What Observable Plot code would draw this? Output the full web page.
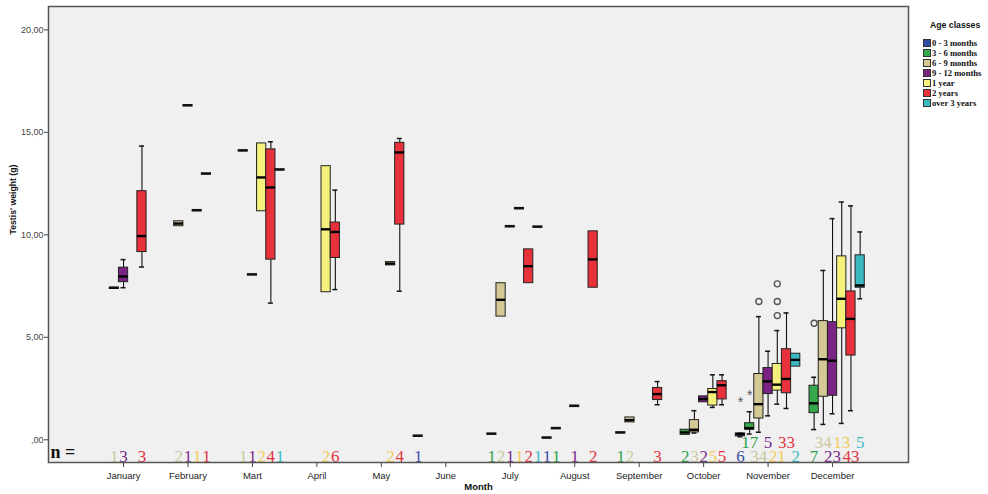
<!DOCTYPE html>
<html>
<head>
<meta charset="utf-8">
<script src="https://cdn.jsdelivr.net/npm/d3@7"></script>
<script src="https://cdn.jsdelivr.net/npm/@observablehq/plot@0.6"></script>
<style>
  body { margin: 0; background: #fff; }
  #wrap { position: relative; width: 988px; height: 494px; overflow: hidden; }
  #chart svg { display: block; }
  .lg-title { position: absolute; font-family: "Liberation Sans", Arial, sans-serif; font-weight: bold; font-size: 8.7px; color: #111; white-space: nowrap; }
  .lg-sw { position: absolute; width: 6px; height: 6px; border: 1px solid #333; }
  .lg-tx { position: absolute; font-family: "Liberation Serif", "Times New Roman", serif; font-weight: bold; font-size: 8.6px; color: #111; white-space: nowrap; line-height: 10px; }
</style>
</head>
<body>
<div id="wrap"><div id="chart"></div></div>
<script>
// ---------- data ----------
const months = ["January","February","Mart","April","May","June","July","August","September","October","November","December"];
const classes = ["0 - 3 months","3 - 6 months","6 - 9 months","9 - 12 months","1 year","2 years","over 3 years"];
const boxColors = ["#2e4da3","#34a84a","#d4c894","#7b2382","#f6f07c","#e8313b","#3ab9c1"];
const labelColors = ["#3a4fa6","#2fa44a","#cbc89c","#7a2c8a","#f2cc58","#e2343e","#3cbcc6"];
const yTicks = [0, 5, 10, 15, 20];

// [monthIndex, classIndex, n, min, q1, median, q3, max]
const boxes = [
  [0,3,3, 7.42,7.69,7.97,8.40,8.79],
  [0,5,3, 8.43,9.16,9.94,12.13,14.33],
  [1,2,2, 10.42,10.42,10.55,10.66,10.66],
  [2,4,2, 11.15,11.15,12.80,14.46,14.46],
  [2,5,4, 6.67,8.79,12.31,14.17,14.54],
  [3,4,2, 7.20,7.20,10.27,13.35,13.35],
  [3,5,6, 7.33,8.87,10.14,10.60,12.18],
  [4,4,2, 8.51,8.51,8.60,8.67,8.67],
  [4,5,4, 7.25,10.50,14.02,14.49,14.70],
  [6,2,2, 6.01,6.01,6.83,7.64,7.64],
  [6,5,2, 7.64,7.64,8.47,9.29,9.29],
  [7,5,2, 7.42,7.42,8.80,10.17,10.17],
  [8,2,2, 0.85,0.85,0.96,1.09,1.09],
  [8,5,3, 1.71,1.94,2.23,2.53,2.84],
  [9,1,2, 0.24,0.24,0.36,0.49,0.49],
  [9,2,3, 0.33,0.36,0.49,0.96,1.42],
  [9,3,2, 1.83,1.83,1.99,2.12,2.12],
  [9,4,5, 1.58,1.67,2.33,2.48,3.17],
  [9,5,5, 1.71,1.97,2.66,2.86,3.17],
  [10,0,6, 0.15,0.17,0.28,0.31,0.32],
  [10,1,17, 0.28,0.49,0.57,0.81,1.37],
  [10,2,34, 0.37,1.04,1.74,3.21,6.01],
  [10,3,5, 1.17,2.23,2.85,3.50,4.32],
  [10,4,21, 1.74,2.40,2.69,3.70,5.33],
  [10,5,33, 1.53,2.27,2.97,4.42,6.19],
  [10,6,2, 3.57,3.57,3.90,4.20,4.20],
  [11,1,7, 0.50,1.30,1.78,2.64,3.05],
  [11,2,34, 0.75,2.10,3.93,5.79,8.26],
  [11,3,23, 1.27,2.15,3.86,5.74,10.79],
  [11,4,13, 0.80,5.44,6.88,8.95,11.60],
  [11,5,43, 1.42,4.11,5.90,7.24,11.41],
  [11,6,5, 6.88,7.42,7.53,9.00,10.14]
];

// single observations (n = 1): [monthIndex, classIndex, value]
const singles = [
  [0,2,7.42],
  [1,3,16.32],[1,4,11.20],[1,5,12.99],
  [2,2,14.12],[2,3,8.07],[2,6,13.19],
  [5,0,0.20],
  [6,1,0.30],[6,3,10.42],[6,4,11.30],[6,6,10.40],
  [7,0,0.11],[7,1,0.57],[7,3,1.66],
  [8,1,0.36]
];

// outliers: [monthIndex, classIndex, value, kind]  ("o" outlier, "*" extreme)
const outliers = [
  [10,0,1.97,"*"],[10,1,2.30,"*"],
  [10,2,6.75,"o"],
  [10,4,6.06,"o"],[10,4,6.75,"o"],[10,4,7.61,"o"],
  [11,1,5.69,"o"]
];

// ---------- derived ----------
const K = classes.length;
const slotOf = (mi, ci) => mi * K + ci;
const boxData = boxes.map(([mi,ci,n,min,q1,med,q3,max]) => ({slot: slotOf(mi,ci), ci, n, min, q1, med, q3, max}));
const singleData = singles.map(([mi,ci,v]) => ({slot: slotOf(mi,ci), ci, n: 1, v}));
const outData = outliers.map(([mi,ci,v,kind]) => ({slot: slotOf(mi,ci), ci, v, kind}));
const monthSlots = months.map((m, i) => slotOf(i, 3));

const xDomain = [-5.15, 88.25];
const yDomain = [-1.107, 21.14];

// staggered n labels: lower row unless it collides with the previous lower-row label
const digitW = 0.9;
const labelData = [...boxData, ...singleData].sort((a, b) => a.slot - b.slot).map(d => ({...d}));
const lastEnd = [-Infinity, -Infinity];
for (const d of labelData) {
  const half = String(d.n).length * digitW / 2;
  const start = d.slot - half;
  let row = 0;
  if (start < lastEnd[0] - 0.01) row = start >= lastEnd[1] - 0.01 ? 1 : 0;
  d.row = row;
  lastEnd[row] = d.slot + half;
}

const wLow = boxData.filter(d => d.min < d.q1);
const wHigh = boxData.filter(d => d.max > d.q3);

const labelFont = "Liberation Serif, Times New Roman, serif";

const chart = Plot.plot({
  width: 988,
  height: 494,
  marginLeft: 48,
  marginRight: 80,
  marginTop: 6,
  marginBottom: 32,
  style: {fontFamily: "Liberation Sans, Arial, sans-serif", background: "transparent", overflow: "visible"},
  x: {domain: xDomain, axis: null},
  y: {domain: yDomain, axis: null},
  color: {type: "identity"},
  marks: [
    Plot.frame({fill: "#f0f0f0"}),
    Plot.axisY({ticks: yTicks, tickSize: 4, tickPadding: 1, fontSize: 9, fill: "#444", stroke: "#444",
      tickFormat: d => (d === 0 ? "" : String(d)) + ",00", label: null}),
    Plot.axisX({ticks: monthSlots, tickSize: 5, tickPadding: 5, fontSize: 9.5, fill: "#222", stroke: "#444",
      tickFormat: d => months[Math.round((d - 3) / K)], label: null}),
    // whiskers
    Plot.ruleX(wHigh, {x: "slot", y1: "q3", y2: "max", stroke: "#111", strokeWidth: 1.1}),
    Plot.ruleX(wLow, {x: "slot", y1: "q1", y2: "min", stroke: "#111", strokeWidth: 1.1}),
    Plot.ruleY(wHigh, {y: "max", x1: d => d.slot - 0.27, x2: d => d.slot + 0.27, stroke: "#111", strokeWidth: 1.5}),
    Plot.ruleY(wLow, {y: "min", x1: d => d.slot - 0.27, x2: d => d.slot + 0.27, stroke: "#111", strokeWidth: 1.5}),
    // boxes
    Plot.rect(boxData, {x1: d => d.slot - 0.5, x2: d => d.slot + 0.5, y1: "q1", y2: "q3",
      fill: d => boxColors[d.ci], stroke: "#222", strokeWidth: 1}),
    Plot.ruleY(boxData, {y: "med", x1: d => d.slot - 0.5, x2: d => d.slot + 0.5, stroke: "#000", strokeWidth: 2.4}),
    // single observations
    Plot.ruleY(singleData, {y: "v", x1: d => d.slot - 0.55, x2: d => d.slot + 0.55, stroke: "#111", strokeWidth: 2.6}),
    // outliers
    Plot.dot(outData.filter(d => d.kind === "o"), {x: "slot", y: "v", r: 3, stroke: "#555", strokeWidth: 1.4, fill: "none"}),
    Plot.text(outData.filter(d => d.kind === "*"), {x: "slot", y: "v", text: () => "*", fontSize: 14, fill: "#555", dy: 3}),
    // n labels
    Plot.text(labelData.filter(d => d.row === 0), {x: "slot", y: () => yDomain[0], text: d => String(d.n),
      fill: d => labelColors[d.ci], fontFamily: labelFont, fontSize: 17, lineAnchor: "bottom", dy: -1}),
    Plot.text(labelData.filter(d => d.row === 1), {x: "slot", y: () => yDomain[0], text: d => String(d.n),
      fill: d => labelColors[d.ci], fontFamily: labelFont, fontSize: 17, lineAnchor: "bottom", dy: -15}),
    Plot.text(["n ="], {frameAnchor: "bottom-left", textAnchor: "start", lineAnchor: "bottom", dx: 2, dy: -5,
      fontFamily: labelFont, fontWeight: "bold", fontSize: 18, fill: "#111"}),
    // axis titles
    Plot.text(["Month"], {frameAnchor: "bottom", dy: 27, fontWeight: "bold", fontSize: 9.5, fill: "#111"}),
    Plot.text(["Testis' weight (g)"], {frameAnchor: "left", dx: -35, rotate: -90, fontWeight: "bold", fontSize: 8.7, fill: "#111"}),
    Plot.frame({stroke: "#555", strokeWidth: 1.5})
  ]
});
document.getElementById("chart").appendChild(chart);

// ---------- legend ----------
const wrap = document.getElementById("wrap");
const title = document.createElement("div");
title.className = "lg-title";
title.textContent = "Age classes";
title.style.left = "930px";
title.style.top = "20px";
wrap.appendChild(title);
classes.forEach((c, i) => {
  const sw = document.createElement("div");
  sw.className = "lg-sw";
  sw.style.left = "923px";
  sw.style.top = (39 + 10 * i) + "px";
  sw.style.background = boxColors[i];
  wrap.appendChild(sw);
  const tx = document.createElement("div");
  tx.className = "lg-tx";
  tx.textContent = c;
  tx.style.left = "932px";
  tx.style.top = (37.5 + 10 * i) + "px";
  wrap.appendChild(tx);
});
</script>
</body>
</html>
